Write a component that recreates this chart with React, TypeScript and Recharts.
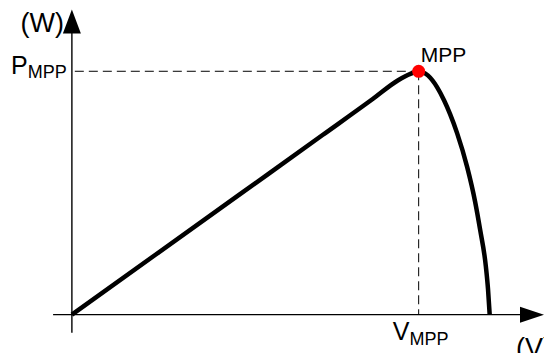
import React from "react";
import { LineChart, Line, XAxis, YAxis, ReferenceLine, ReferenceDot } from "recharts";

const voltage = [0, 20, 40, 60, 72, 78, 81, 83, 85.2, 87.4, 89.1, 90.5, 92.2, 94.6, 96.5, 97.7, 99.1, 99.6, 100];
const power = [0, 24.6, 49.2, 73.8, 88.6, 96.2, 98.9, 100, 98.3, 93.5, 88, 82.5, 74.6, 60.7, 46.5, 35, 19.6, 10.5, 0];
const V_MPP = 83;
const P_MPP = 100;
const axisLabels = { power: "(W)", voltage: "(V)", mpp: "MPP", p: "P", v: "V", sub: "MPP" };

const data = voltage.map((v, i) => ({ v, p: power[i] }));
const FONT = "'Liberation Sans', Arial, sans-serif";

const YAxisShape = (props: any) => {
  const { x1, y1, x2, y2 } = props;
  return (
    <g>
      <line x1={x1} y1={y1} x2={x2} y2={y2 + 22} stroke="#000" strokeWidth={1.4} />
      <polygon points={`${x2},${y2} ${x2 - 9},${y2 + 24} ${x2 + 9},${y2 + 24}`} fill="#000" />
      <text x={x2 - 8} y={y2 + 23} textAnchor="end" fontFamily={FONT} fontSize={27} fill="#000">
        {axisLabels.power}
      </text>
    </g>
  );
};

const XAxisShape = (props: any) => {
  const { x1, y1, x2, y2 } = props;
  return (
    <g>
      <line x1={x1} y1={y1} x2={x2 - 22} y2={y2} stroke="#000" strokeWidth={1.4} />
      <polygon points={`${x2},${y2} ${x2 - 24},${y2 - 8} ${x2 - 24},${y2 + 8}`} fill="#000" />
      <text x={x2 - 28} y={y2 + 42} textAnchor="start" fontFamily={FONT} fontSize={27} fill="#000">
        {axisLabels.voltage}
      </text>
    </g>
  );
};

const PLabel = (props: any) => {
  const { viewBox } = props;
  return (
    <text x={viewBox.x - 8} y={viewBox.y + 3} textAnchor="end" fontFamily={FONT} fontSize={25} fill="#000">
      {axisLabels.p}
      <tspan fontSize={18} dy={4}>{axisLabels.sub}</tspan>
    </text>
  );
};

const VLabel = (props: any) => {
  const { viewBox } = props;
  return (
    <text x={viewBox.x + 2} y={viewBox.y + viewBox.height + 25} textAnchor="middle" fontFamily={FONT} fontSize={25} fill="#000">
      {axisLabels.v}
      <tspan fontSize={18} dy={5}>{axisLabels.sub}</tspan>
    </text>
  );
};

const MppLabel = (props: any) => {
  const { viewBox } = props;
  const cx = viewBox.x + viewBox.width / 2;
  const cy = viewBox.y + viewBox.height / 2;
  return (
    <text x={cx + 2} y={cy - 9} textAnchor="start" fontFamily={FONT} fontSize={21} fill="#000">
      {axisLabels.mpp}
    </text>
  );
};

export default function App() {
  return (
    <div style={{ position: "absolute", left: 0, top: 0, width: 544, height: 353, background: "#fff" }}>
      <LineChart width={544} height={353} data={data} margin={{ top: 8, right: 0, bottom: 14, left: 51 }}>
        <XAxis dataKey="v" type="number" domain={[-5, 113]} hide allowDataOverflow />
        <YAxis type="number" domain={[-10, 126]} hide allowDataOverflow />
        <ReferenceLine
          segment={[{ x: 0.7, y: P_MPP }, { x: V_MPP, y: P_MPP }]}
          stroke="#000"
          strokeWidth={1}
          strokeDasharray="9 5"
          ifOverflow="visible"
          label={<PLabel />}
        />
        <ReferenceLine
          segment={[{ x: V_MPP, y: P_MPP }, { x: V_MPP, y: 0 }]}
          stroke="#000"
          strokeWidth={1}
          strokeDasharray="9 5"
          ifOverflow="visible"
          label={<VLabel />}
        />
        <ReferenceLine
          segment={[{ x: 0, y: -7.4 }, { x: 0, y: 125.4 }]}
          ifOverflow="visible"
          shape={YAxisShape}
        />
        <ReferenceLine
          segment={[{ x: -4.5, y: 0 }, { x: 113, y: 0 }]}
          ifOverflow="visible"
          shape={XAxisShape}
        />
        <Line
          dataKey="p"
          type="monotone"
          stroke="#000"
          strokeWidth={4.5}
          dot={false}
          activeDot={false}
          isAnimationActive={false}
        />
        <ReferenceDot
          x={V_MPP}
          y={P_MPP}
          r={6.5}
          fill="#ff0000"
          stroke="none"
          ifOverflow="visible"
          label={<MppLabel />}
        />
      </LineChart>
    </div>
  );
}
